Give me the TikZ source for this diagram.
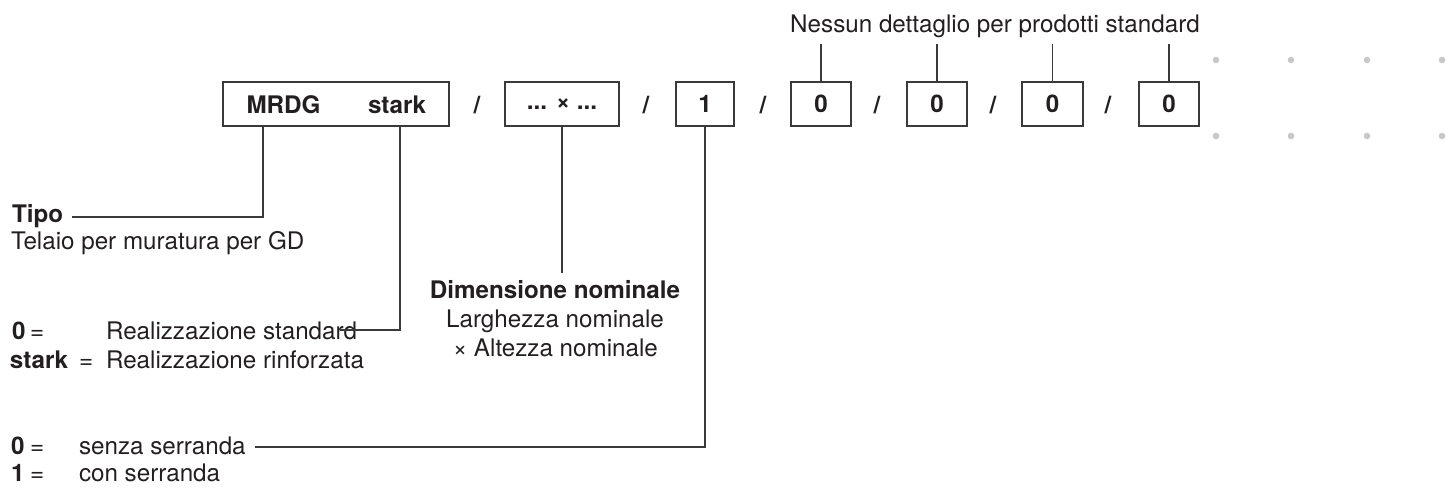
\documentclass[tikz,border=0pt]{standalone}
\usepackage{fontspec}
\setmainfont{TeX Gyre Heros}
\definecolor{ink}{HTML}{231F20}
\definecolor{wire}{HTML}{3A3A3A}
\definecolor{dotc}{HTML}{C8C8CA}
\begin{document}
\begin{tikzpicture}[x=0.5pt,y=-0.5pt,
  every node/.style={inner sep=0pt,outer sep=0pt,text=ink,font=\fontsize{12.1}{14}\selectfont},
  codebox/.style={draw=wire,line width=0.75pt,minimum height=22pt},
  txt/.style={anchor=base west},
  ctxt/.style={anchor=base},
  bf/.style={font=\fontsize{12.1}{14}\selectfont\bfseries},
  wireline/.style={draw=wire,line width=0.75pt},
  greydot/.style={fill=dotc,draw=none}]
\useasboundingbox (0,0) rectangle (1446,488);
% boxes
\node[codebox,minimum width=113pt] (b1) at (336,104) {};
\node[bf,ctxt] (mrdg) at (283.5,113) {MRDG};
\node[bf,ctxt] (stk) at (397,113) {stark};
\node[codebox,minimum width=57pt] (b2) at (562,104) {\bfseries ... × ...};
\node[codebox,minimum width=29pt] (b3) at (705,104) {\bfseries 1};
\node[codebox,minimum width=30pt] (b4) at (821,104) {\bfseries 0};
\node[codebox,minimum width=30pt] (b5) at (937,104) {\bfseries 0};
\node[codebox,minimum width=30.5pt] (b6) at (1052.5,104) {\bfseries 0};
\node[codebox,minimum width=30pt] (b7) at (1169,104) {\bfseries 0};
% slashes
\foreach \i/\x in {1/477,2/646,3/763,4/877,5/993,6/1108}
  \node[bf,ctxt] (s\i) at (\x,113) {/};
% top label
\node[ctxt] (nessun) at (995,32) {Nessun dettaglio per prodotti standard};
\foreach \b in {b4,b5,b6,b7}
  \draw[wireline] (\b.north) -- ++(0,-38);
% dots
\foreach \x in {1216,1291,1367,1442}
  \foreach \y in {60,136}
    \fill[greydot] (\x,\y) circle (1.65pt);
% Tipo
\node[bf,txt] (tipo) at (12,222) {Tipo};
\node[txt] (telaio) at (11,249) {Telaio per muratura per GD};
\coordinate (tipoend) at (72,217);
\coordinate (k1) at (263,126);
\draw[wireline] (tipoend) -| (k1);
% stark
\node[bf,txt] (z0) at (12,339) {0};
\node[txt] (eq0) at (30,339) {=};
\node[txt] (rstd) at (106,339) {Realizzazione standard};
\node[bf,txt] (zst) at (10,368) {stark};
\node[txt] (eqst) at (79,368) {=};
\node[txt] (rrinf) at (106,368) {Realizzazione rinforzata};
\coordinate (stdend) at (340,330);
\coordinate (k2) at (400,126);
\draw[wireline] (stdend) -| (k2);
% Dimensione
\node[bf,ctxt] (dim) at (555,298) {Dimensione nominale};
\node[ctxt] (larg) at (555,327) {Larghezza nominale};
\node[ctxt] (alt) at (555.5,356) {× Altezza nominale};
\draw[wireline] (b2.south) -- ++(0,147);
% serranda
\node[bf,txt] (s0) at (11,454) {0};
\node[txt] (eqs0) at (30,454) {=};
\node[txt] (senza) at (79,454) {senza serranda};
\node[bf,txt] (s1) at (11,481) {1};
\node[txt] (eqs1) at (30,481) {=};
\node[txt] (con) at (79,481) {con serranda};
\coordinate (senzaend) at (255,447);
\draw[wireline] (senzaend) -| (b3.south);
\end{tikzpicture}
\end{document}
